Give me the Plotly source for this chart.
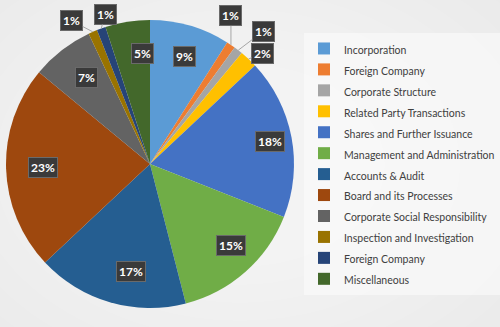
import math
import plotly.graph_objects as go

# ---- data ----
categories = [
    "Incorporation", "Foreign Company", "Corporate Structure",
    "Related Party Transactions", "Shares and Further Issuance",
    "Management and Administration", "Accounts & Audit",
    "Board and its Processes", "Corporate Social Responsibility",
    "Inspection and Investigation", "Foreign Company ", "Miscellaneous",
]
values = [9, 1, 1, 2, 18, 15, 17, 23, 7, 1, 1, 5]
colors = ["#5B9BD5", "#ED7D31", "#A5A5A5", "#FFC000", "#4472C4", "#70AD47",
          "#255E91", "#9E480E", "#636363", "#997300", "#264478", "#43682B"]

W, H = 500, 327
dom_x = [5 / W, 295 / W]
dom_y = [1 - 308 / H, 1 - 20 / H]

legend_labels = [f"<span style='font-size:10.5px'>{c}</span>" for c in categories]

fig = go.Figure(go.Pie(
    labels=legend_labels, values=values, sort=False, direction="clockwise",
    rotation=0, marker=dict(colors=colors, line=dict(width=0)),
    textinfo="none", hoverinfo="label+percent",
    domain=dict(x=dom_x, y=dom_y),
))

# geometry of pie in pixels (derived from domain)
cx = (dom_x[0] + dom_x[1]) / 2 * W
cy = (1 - (dom_y[0] + dom_y[1]) / 2) * H
R = min((dom_x[1] - dom_x[0]) * W, (dom_y[1] - dom_y[0]) * H) / 2

# outside-label offsets (pixels) for the small slices
outside = {1: (0, -29), 2: (25, -19), 3: (14, -6), 9: (-21, -11), 10: (4, -14)}

total = sum(values)
cum = 0
annotations = []
for i, v in enumerate(values):
    mid = (cum + v / 2) / total * 2 * math.pi
    cum += v
    pct = f"{round(v / total * 100)}%"
    box = dict(text=f"<b>{pct}</b>", font=dict(color="white", size=12, family="Lato"),
               bgcolor="#3a3a3a", bordercolor="#6a6a6a", borderwidth=1, borderpad=2,
               xref="paper", yref="paper")
    if i in outside:
        ex = cx + R * math.sin(mid)
        ey = cy - R * math.cos(mid)
        ax, ay = outside[i]
        box.update(x=ex / W, y=1 - ey / H, showarrow=True, arrowhead=0,
                   arrowwidth=1, arrowcolor="#a6a6a6", ax=ax, ay=ay, standoff=0)
    else:
        r = 0.85 * R
        px = cx + r * math.sin(mid)
        py = cy - r * math.cos(mid)
        box.update(x=px / W, y=1 - py / H, showarrow=False)
    annotations.append(box)

# soft background vignette (lighter toward the centre)
shapes = []
n = 12
for k in range(n):
    rx = 420 - k * 25
    ry = 300 - k * 18
    shapes.append(dict(type="circle", xref="paper", yref="paper", layer="below",
                       x0=(240 - rx) / W, x1=(240 + rx) / W,
                       y0=1 - (165 + ry) / H, y1=1 - (165 - ry) / H,
                       fillcolor="rgba(255,255,255,0.09)", line=dict(width=0)))

fig.update_layout(
    width=W, height=H, margin=dict(l=0, r=0, t=0, b=0),
    paper_bgcolor="#e4e4e4", plot_bgcolor="rgba(0,0,0,0)",
    showlegend=True,
    legend=dict(x=1, y=1 - 33 / H, xanchor="right", yanchor="top",
                bgcolor="rgba(250,250,250,0.7)", borderwidth=0,
                font=dict(family="Lato", size=13.8, color="#404040"),
                traceorder="normal"),
    annotations=annotations, shapes=shapes,
)

fig.write_html("out.html")
